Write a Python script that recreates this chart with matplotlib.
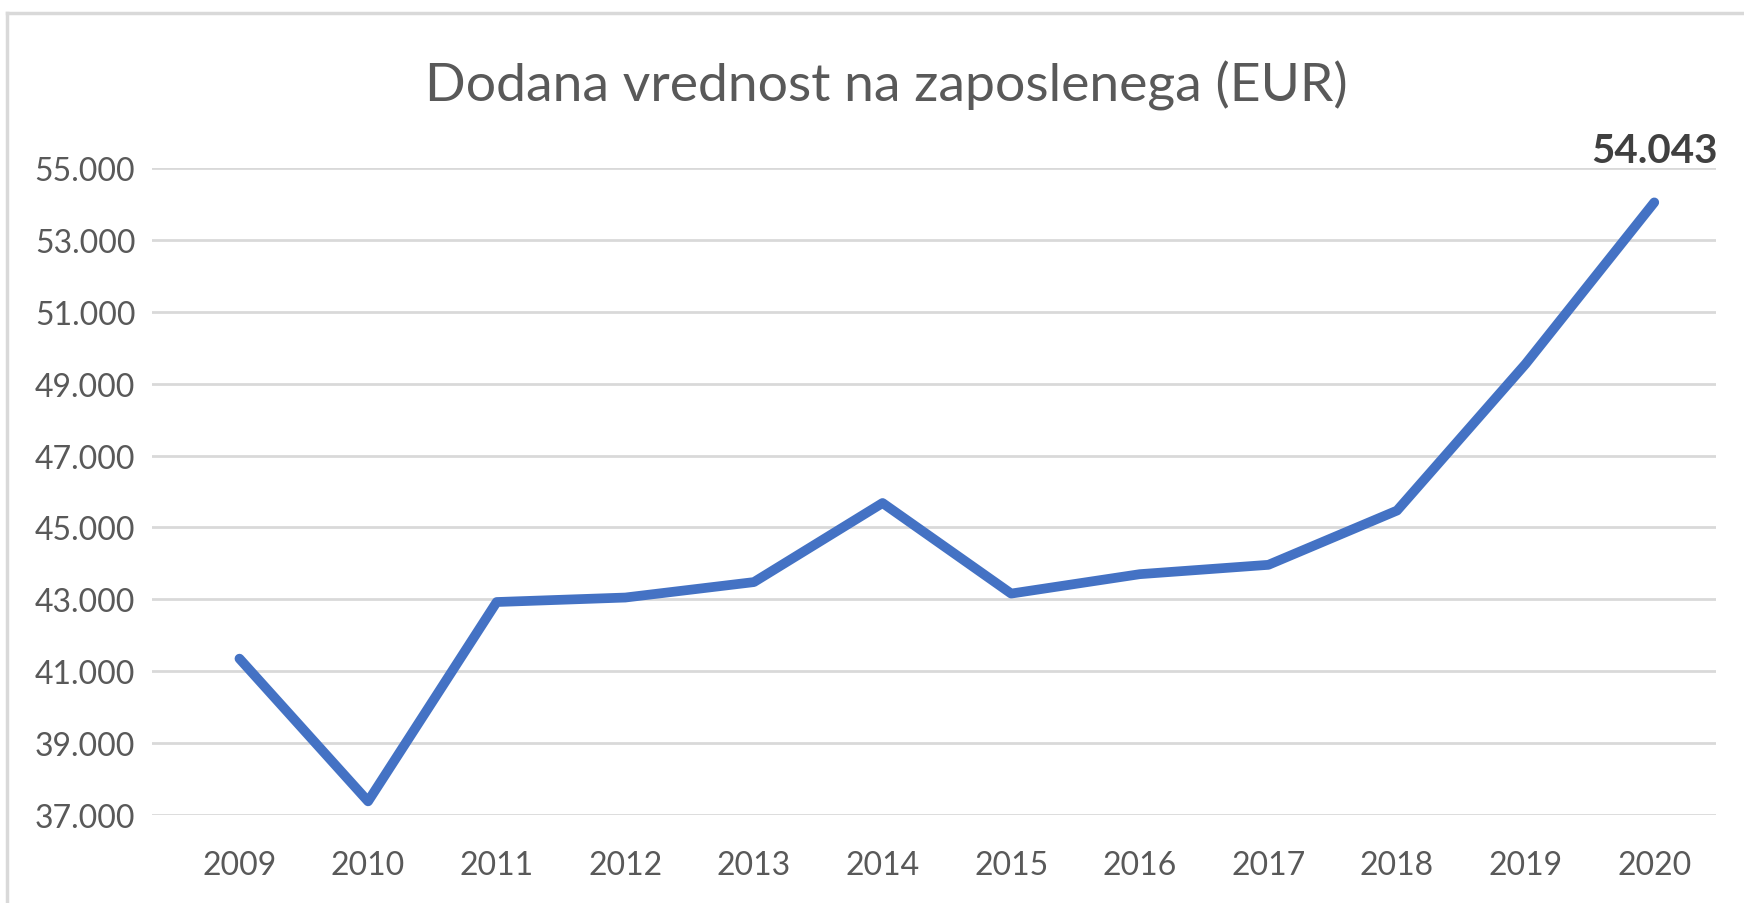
import numpy as np
import matplotlib as mpl
import matplotlib.pyplot as plt
from matplotlib.lines import Line2D
from matplotlib.ticker import FuncFormatter

mpl.rcParams["font.family"] = ["Lato", "DejaVu Sans"]

years = ["2009", "2010", "2011", "2012", "2013", "2014",
         "2015", "2016", "2017", "2018", "2019", "2020"]
values = [41350, 37380, 42925, 43050, 43480, 45680,
          43160, 43700, 43960, 45470, 49550, 54043]
yticks = [37000, 39000, 41000, 43000, 45000, 47000, 49000, 51000, 53000, 55000]

W, H = 1744, 904
fig = plt.figure(figsize=(W / 100, H / 100), dpi=100)
ax = fig.add_axes([152 / W, 1 - 816 / H, (1716 - 152) / W, (816 - 169) / H])

x = np.arange(len(years))
ax.plot(x, values, color="#4472C4", lw=7, solid_joinstyle="round",
        solid_capstyle="round", zorder=3)

ax.set_xlim(-0.68, 11.48)
ax.set_ylim(37000, 55000)
ax.set_yticks(yticks)
ax.yaxis.set_major_formatter(FuncFormatter(lambda v, p: "{:,.0f}".format(v).replace(",", ".")))
ax.set_xticks(x)
ax.set_xticklabels(years)
ax.grid(axis="y", color="#D9D9D9", lw=2)
ax.set_axisbelow(True)
for s in ax.spines.values():
    s.set_visible(False)
ax.tick_params(axis="y", length=0, pad=12, labelsize=23, labelcolor="#595959")
ax.tick_params(axis="x", length=0, pad=25, labelsize=23, labelcolor="#595959")

# label on last point
ax.annotate("{:,.0f}".format(values[-1]).replace(",", "."), xy=(x[-1], values[-1]),
            xytext=(0, 29), textcoords="offset points", ha="center", va="baseline",
            fontsize=29, fontweight="bold", color="#404040", annotation_clip=False)

fig.text(0.508, 1 - 86 / H, "Dodana vrednost na zaposlenega (EUR)", ha="center",
         va="center", fontsize=38.5, color="#595959")

# chart frame (left and top edges)
fig.add_artist(Line2D([7 / W, 7 / W], [0, 1 - 14 / H], color="#D9D9D9", lw=2.5))
fig.add_artist(Line2D([7 / W, 1], [1 - 14 / H, 1 - 14 / H], color="#D9D9D9", lw=2.5))

fig.savefig("out.png", dpi=100)
